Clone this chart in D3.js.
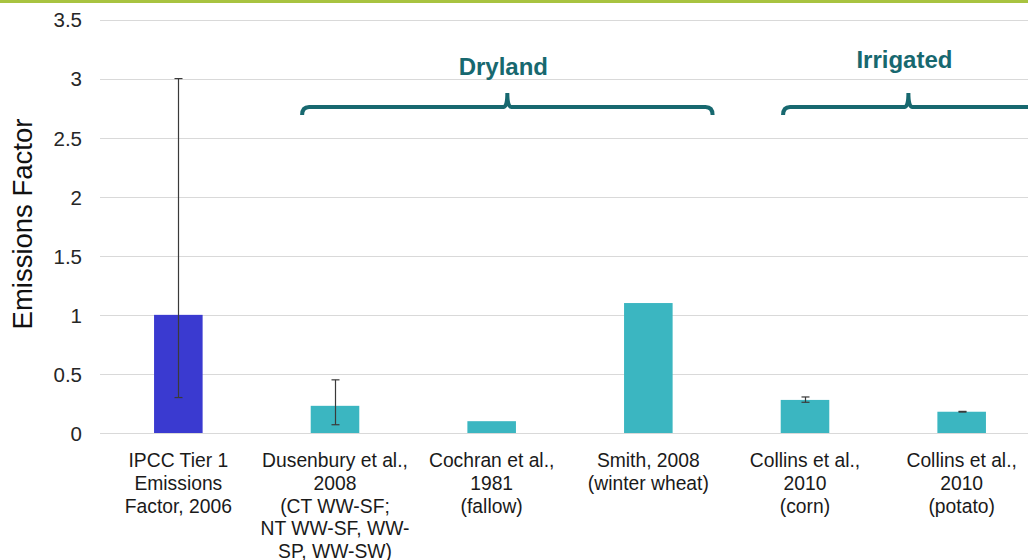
<!DOCTYPE html>
<html>
<head>
<meta charset="utf-8">
<script src="https://cdn.jsdelivr.net/npm/d3@7"></script>
<style>
  body { margin: 0; background: #fff; }
  svg { display: block; font-family: "Liberation Sans", Arial, sans-serif; }
</style>
</head>
<body>
<div id="chart"></div>
<script>
// data
var categories = ["IPCC", "Dusenbury", "Cochran", "Smith", "CollinsCorn", "CollinsPotato"];
var labelLines = [
  ["IPCC Tier 1", "Emissions", "Factor, 2006"],
  ["Dusenbury et al.,", "2008", "(CT WW-SF;", "NT WW-SF, WW-", "SP, WW-SW)"],
  ["Cochran et al.,", "1981", "(fallow)"],
  ["Smith, 2008", "(winter wheat)"],
  ["Collins et al.,", "2010", "(corn)"],
  ["Collins et al.,", "2010", "(potato)"]
];
var values   = [1.0, 0.23, 0.10, 1.10, 0.28, 0.18];
var errLow   = [0.30, 0.07, null, null, 0.26, 0.177];
var errHigh  = [3.00, 0.45, null, null, 0.305, 0.183];
var barColors = ["#3a3ad0", "#3bb6c1", "#3bb6c1", "#3bb6c1", "#3bb6c1", "#3bb6c1"];
var yTicks = [0, 0.5, 1, 1.5, 2, 2.5, 3, 3.5];

// groups (brace annotations), in category-index units
var groupNames = ["Dryland", "Irrigated"];
var groupStart = [1.29, 4.36];
var groupEnd   = [3.91, 5.96];

var W = 1028, H = 560;
var svg = d3.select("#chart").append("svg")
    .attr("width", W)
    .attr("height", H);

// green band at top
svg.append("rect")
    .attr("x", 0).attr("y", 0)
    .attr("width", W).attr("height", 3)
    .attr("fill", "#a8c340");

var x = d3.scaleBand()
    .domain(categories)
    .range([100, 1040])
    .paddingInner(0.69)
    .paddingOuter(0.345);

var y = d3.scaleLinear()
    .domain([0, 3.5])
    .range([433, 19.5]);

var idx = d3.scaleLinear()
    .domain([0, categories.length])
    .range([100, 1040]);

// gridlines
svg.append("g")
  .selectAll("line")
  .data(yTicks)
  .enter().append("line")
    .attr("x1", 100).attr("x2", W)
    .attr("y1", function(d){ return Math.round(y(d)) + 0.5; })
    .attr("y2", function(d){ return Math.round(y(d)) + 0.5; })
    .attr("stroke", "#d9d9d9")
    .attr("stroke-width", 1);

// y axis labels
var yAxis = d3.axisLeft(y).tickValues(yTicks).tickSize(0).tickPadding(0)
    .tickFormat(function(d){ return d; });
var ya = svg.append("g").attr("transform", "translate(82,0)").call(yAxis);
ya.select(".domain").remove();
ya.selectAll("text")
    .attr("font-size", 20.5)
    .attr("font-family", "Liberation Sans, Arial, sans-serif")
    .attr("fill", "#262626")
    .attr("dy", "0.36em");

svg.append("text")
    .attr("transform", "translate(32,224) rotate(-90)")
    .attr("text-anchor", "middle")
    .attr("font-size", 27.5)
    .attr("fill", "#111")
    .text("Emissions Factor");

// bars
svg.append("g")
  .selectAll("rect")
  .data(categories)
  .enter().append("rect")
    .attr("x", function(d){ return x(d); })
    .attr("width", x.bandwidth())
    .attr("y", function(d, i){ return y(values[i]); })
    .attr("height", function(d, i){ return y(0) - y(values[i]); })
    .attr("fill", function(d, i){ return barColors[i]; });

// error bars
var eg = svg.append("g").attr("stroke", "#3a3a3a").attr("stroke-width", 1.2);
categories.forEach(function(c, i){
  if (errLow[i] == null) return;
  var cx = Math.round(x(c) + x.bandwidth() / 2) + 0.5;
  eg.append("line").attr("x1", cx).attr("x2", cx)
    .attr("y1", y(errLow[i])).attr("y2", y(errHigh[i]));
  [errLow[i], errHigh[i]].forEach(function(v){
    eg.append("line").attr("x1", cx - 4).attr("x2", cx + 4)
      .attr("y1", y(v)).attr("y2", y(v));
  });
});

// category labels
var lg = svg.append("g")
    .attr("font-size", 19.3)
    .attr("fill", "#1a1a1a")
    .attr("text-anchor", "middle");
categories.forEach(function(c, i){
  var t = lg.append("text")
      .attr("x", x(c) + x.bandwidth() / 2)
      .attr("y", 467);
  labelLines[i].forEach(function(line, j){
    t.append("tspan")
      .attr("x", x(c) + x.bandwidth() / 2)
      .attr("y", 467 + j * 22.8)
      .text(line);
  });
});

// braces
var braceColor = "#17686f";
var by = 107, bEnd = 115, bTop = 93;
groupNames.forEach(function(name, i){
  var x1 = idx(groupStart[i]), x2 = idx(groupEnd[i]), xm = (x1 + x2) / 2;
  var p = d3.path();
  p.moveTo(x1, bEnd);
  p.quadraticCurveTo(x1, by, x1 + 7, by);
  p.lineTo(xm - 4, by);
  p.quadraticCurveTo(xm, by, xm, bTop);
  p.quadraticCurveTo(xm, by, xm + 4, by);
  p.lineTo(x2 - 7, by);
  p.quadraticCurveTo(x2, by, x2, bEnd);
  svg.append("path")
      .attr("d", p.toString())
      .attr("fill", "none")
      .attr("stroke", braceColor)
      .attr("stroke-width", 4);
  svg.append("text")
      .attr("x", xm - 4)
      .attr("y", i === 0 ? 75 : 68)
      .attr("text-anchor", "middle")
      .attr("font-size", 24)
      .attr("font-weight", "bold")
      .attr("fill", braceColor)
      .text(name);
});
</script>
</body>
</html>
